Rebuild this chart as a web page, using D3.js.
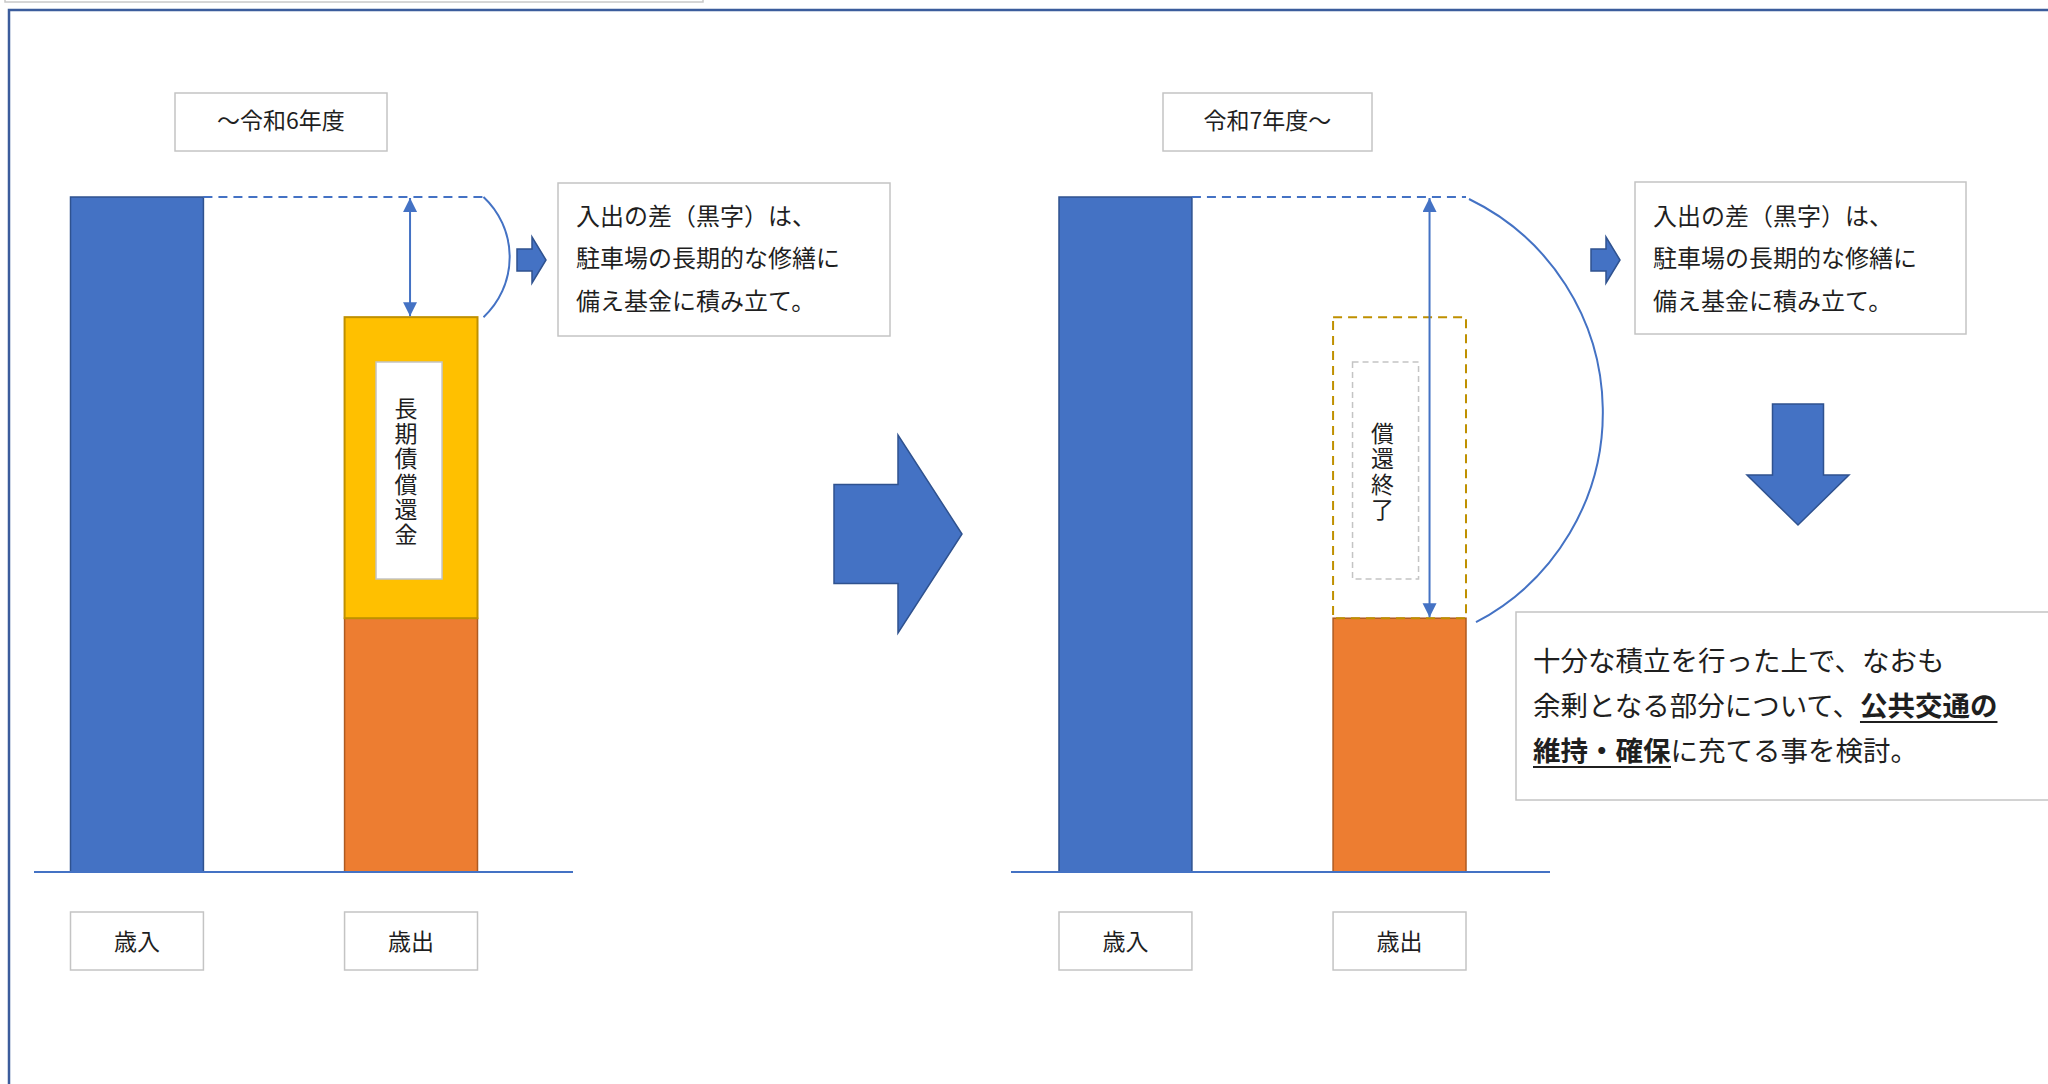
<!DOCTYPE html>
<html lang="ja">
<head>
<meta charset="utf-8">
<script src="https://cdn.jsdelivr.net/npm/d3@7"></script>
<style>
  html, body { margin: 0; padding: 0; background: #fff; }
  svg { display: block; font-family: "Noto Sans CJK JP", "Noto Sans", sans-serif; }
  .box { fill: #fff; stroke: #c4c4c4; stroke-width: 1.5; }
  .lbl { fill: #1f1f1f; }
</style>
</head>
<body>
<svg id="chart" width="2048" height="1084"></svg>
<script>
// ---- data ----
const periods = ["～令和6年度", "令和7年度～"];
const categories = ["歳入", "歳出"];
const revenue = [100, 100];
const operatingCost = [37.6, 37.6];
const debtRepayment = [44.6, 44.6];
const debtLabels = ["長期債償還金", "償還終了"];
const debtEnded = [false, true];
const noteLines = ["入出の差（黒字）は、", "駐車場の長期的な修繕に", "備え基金に積み立て。"];
const conclusionLines = [
    [{ t: "十分な積立を行った上で、なおも" }],
    [{ t: "余剰となる部分について、" }, { t: "公共交通の", b: true }],
    [{ t: "維持・確保", b: true }, { t: "に充てる事を検討。" }]
];

// ---- layout ----
const svg = d3.select("#chart");
const blue = "#4472C4", blueDark = "#2F528F";
const orange = "#ED7D31", orangeDark = "#AE5A21";
const yellow = "#FFC000", yellowDark = "#BF9000";

const y = d3.scaleLinear().domain([0, 100]).range([872, 197]);

const panels = [
    { x0: 70.5, base: [34, 573], title: [175, 387], note: [558, 183, 332, 153], arc: 82, small: 517, arrowDx: -1, innerDx: -2, arcDx: [0, 0] },
    { x0: 1059, base: [1011, 1550], title: [1163, 1372], note: [1635, 182, 331, 152], arc: 237, small: 1591, arrowDx: 30, innerDx: -14, arcDx: [-3, 4] }
];

// outer frame + stray box at top
svg.append("rect").attr("x", 5).attr("y", -10).attr("width", 698).attr("height", 12)
    .attr("fill", "none").attr("stroke", "#c8c8c8").attr("stroke-width", 1.5);
svg.append("path").attr("d", "M9,1084 V10 H2048")
    .attr("fill", "none").attr("stroke", "#3B5C9C").attr("stroke-width", 2.5);

// arrow markers
const defs = svg.append("defs");
["start", "end"].forEach(k => {
    defs.append("marker")
        .attr("id", "ah-" + k)
        .attr("markerUnits", "userSpaceOnUse")
        .attr("markerWidth", 16).attr("markerHeight", 16)
        .attr("refX", 14).attr("refY", 7)
        .attr("orient", k === "start" ? "auto-start-reverse" : "auto")
        .append("path").attr("d", "M0,0 L14,7 L0,14 Z").attr("fill", blue);
});

function textBox(parent, x, yTop, w, h) {
    return parent.append("rect").attr("class", "box")
        .attr("x", x).attr("y", yTop).attr("width", w).attr("height", h);
}

function blockArrowRight(x, cy, shaftLen, shaftH, headLen, headH) {
    const pts = [
        [x, cy - shaftH / 2], [x + shaftLen, cy - shaftH / 2], [x + shaftLen, cy - headH / 2],
        [x + shaftLen + headLen, cy], [x + shaftLen, cy + headH / 2], [x + shaftLen, cy + shaftH / 2],
        [x, cy + shaftH / 2]
    ];
    svg.append("polygon").attr("points", pts.map(p => p.join(",")).join(" "))
        .attr("fill", blue).attr("stroke", blueDark).attr("stroke-width", 1.5);
}

panels.forEach((p, i) => {
    const x = d3.scaleBand().domain(categories).range([p.x0, p.x0 + 407])
        .paddingInner(0.515).paddingOuter(0);
    const bw = x.bandwidth();
    const g = svg.append("g");

    // period title
    textBox(g, p.title[0], 93, p.title[1] - p.title[0], 58);
    g.append("text").attr("class", "lbl")
        .attr("x", (p.title[0] + p.title[1]) / 2).attr("y", 119)
        .attr("text-anchor", "middle").attr("dominant-baseline", "central")
        .attr("font-size", 23).text(periods[i]);

    // revenue bar
    g.append("rect").attr("x", x("歳入")).attr("y", y(revenue[i]))
        .attr("width", bw).attr("height", y(0) - y(revenue[i]))
        .attr("fill", blue).attr("stroke", blueDark).attr("stroke-width", 1.5);

    // operating cost
    g.append("rect").attr("x", x("歳出")).attr("y", y(operatingCost[i]))
        .attr("width", bw).attr("height", y(0) - y(operatingCost[i]))
        .attr("fill", orange).attr("stroke", orangeDark).attr("stroke-width", 1.5);

    // debt repayment
    const top = operatingCost[i] + debtRepayment[i];
    const dr = g.append("rect").attr("x", x("歳出")).attr("y", y(top))
        .attr("width", bw).attr("height", y(operatingCost[i]) - y(top))
        .attr("stroke", yellowDark).attr("stroke-width", 2);
    if (debtEnded[i]) dr.attr("fill", "none").attr("stroke-dasharray", "9,6");
    else dr.attr("fill", yellow);

    // inner label box (vertical text)
    const ix = x("歳出") + bw / 2 + p.innerDx;
    const innerTop = 362, innerBot = 579;
    g.append("rect").attr("x", ix - 33).attr("y", innerTop).attr("width", 66)
        .attr("height", innerBot - innerTop).attr("fill", debtEnded[i] ? "none" : "#fff")
        .attr("stroke", "#c4c4c4").attr("stroke-width", 1.5)
        .attr("stroke-dasharray", debtEnded[i] ? "6,4" : null);
    g.append("text").attr("class", "lbl")
        .attr("x", ix - 3).attr("y", (innerTop + innerBot) / 2 + 2)
        .attr("text-anchor", "middle")
        .style("writing-mode", "vertical-rl")
        .attr("letter-spacing", 2.3)
        .attr("font-size", 23).text(debtLabels[i]);

    // baseline
    g.append("line").attr("x1", p.base[0]).attr("x2", p.base[1])
        .attr("y1", y(0)).attr("y2", y(0)).attr("stroke", blue).attr("stroke-width", 2);

    // dashed top level
    const dashEnd = x("歳出") + bw + 6;
    g.append("line").attr("x1", x("歳入") + bw).attr("x2", dashEnd - (i ? 6 : 0))
        .attr("y1", y(revenue[i])).attr("y2", y(revenue[i]))
        .attr("stroke", blue).attr("stroke-width", 2).attr("stroke-dasharray", "9,6");

    // double arrow showing the difference
    const ax = x("歳出") + bw / 2 + p.arrowDx;
    const lower = debtEnded[i] ? operatingCost[i] : top;
    g.append("line").attr("x1", ax).attr("x2", ax)
        .attr("y1", y(revenue[i]) + 1).attr("y2", y(lower) - 1)
        .attr("stroke", blue).attr("stroke-width", 2)
        .attr("marker-start", "url(#ah-start)").attr("marker-end", "url(#ah-end)");

    // bracket arc
    const a0 = [dashEnd + p.arcDx[0], y(revenue[i]) + (i ? 2 : 0)];
    const a1 = [dashEnd + p.arcDx[1], y(lower) + (i ? 4 : 0)];
    g.append("path")
        .attr("d", `M${a0[0]},${a0[1]} A${p.arc},${p.arc} 0 0 1 ${a1[0]},${a1[1]}`)
        .attr("fill", "none").attr("stroke", blue).attr("stroke-width", 2);

    // small arrow + note
    blockArrowRight(p.small, 260, 15, 22, 14, 46);
    const [nx, ny, nw, nh] = p.note;
    textBox(g, nx, ny, nw, nh);
    g.selectAll(".note").data(noteLines).join("text").attr("class", "lbl note")
        .attr("x", nx + 18).attr("y", (d, k) => 214 + k * 42.5)
        .attr("dominant-baseline", "central").attr("font-size", 24).text(d => d);

    // category labels
    categories.forEach(c => {
        textBox(g, x(c), 912, bw, 58);
        g.append("text").attr("class", "lbl")
            .attr("x", x(c) + bw / 2).attr("y", 940)
            .attr("text-anchor", "middle").attr("dominant-baseline", "central")
            .attr("font-size", 23).text(c);
    });
});

// big transition arrow
blockArrowRight(834, 534, 64, 99, 64, 198);

// down arrow
(function () {
    const cx = 1798, top = 404, headTop = 475, tip = 525, sw = 51, hw = 102;
    const pts = [[cx - sw / 2, top], [cx + sw / 2, top], [cx + sw / 2, headTop], [cx + hw / 2, headTop],
        [cx, tip], [cx - hw / 2, headTop], [cx - sw / 2, headTop]];
    svg.append("polygon").attr("points", pts.map(p => p.join(",")).join(" "))
        .attr("fill", blue).attr("stroke", blueDark).attr("stroke-width", 1.5);
})();

// conclusion box
textBox(svg, 1516, 612, 540, 188);
const concl = svg.selectAll(".concl").data(conclusionLines).join("text").attr("class", "lbl concl")
    .attr("x", 1533).attr("y", (d, k) => 671 + k * 45)
    .attr("font-size", 27.5);
concl.selectAll("tspan").data(d => d).join("tspan")
    .attr("font-weight", d => d.b ? 700 : 400)
    .text(d => d.t);

// underline the bold parts by hand
concl.each(function () {
    const line = d3.select(this);
    const base = +line.attr("y");
    line.selectAll("tspan").filter(d => d.b).each(function () {
        const bb = this.getBBox();
        svg.append("line").attr("x1", bb.x).attr("x2", bb.x + bb.width)
            .attr("y1", base + 6).attr("y2", base + 6)
            .attr("stroke", "#1f1f1f").attr("stroke-width", 2);
    });
});
</script>
</body>
</html>
